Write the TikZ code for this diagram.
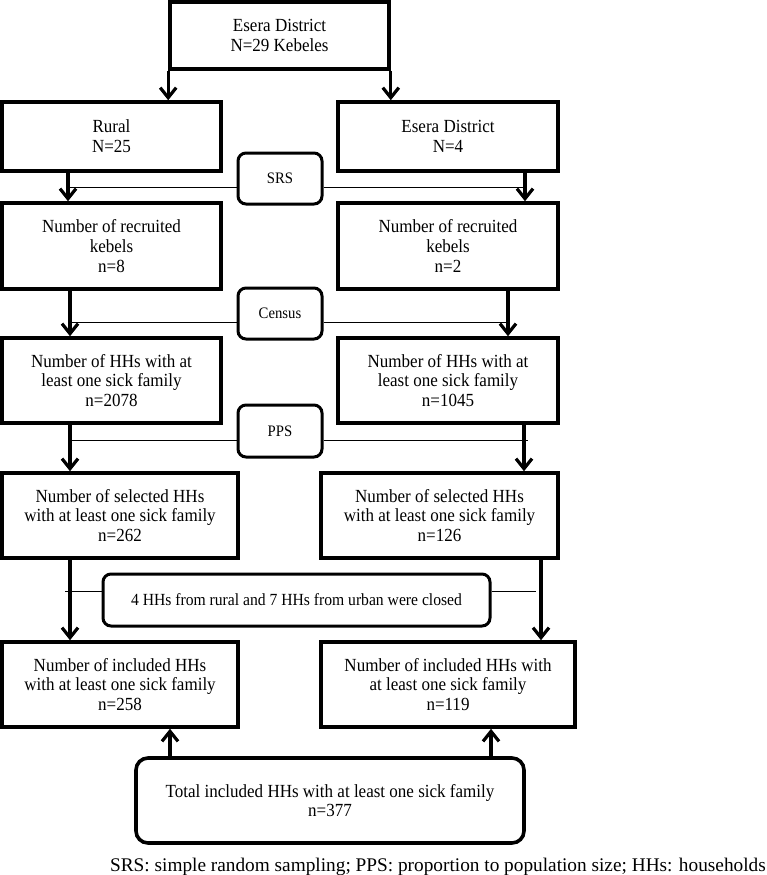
\documentclass[tikz,border=0pt]{standalone}
\usepackage{fontspec}
\setmainfont{Liberation Serif}
\newfontfamily\boxfont[FakeStretch=0.92]{Liberation Serif}
\usetikzlibrary{arrows.meta,calc}
\begin{document}
\begin{tikzpicture}[x=1pt,y=-1pt,
 mbox/.style={draw,line width=3.6pt,align=center,inner sep=0pt,font=\boxfont\fontsize{18.5}{19.8}\selectfont},
 rbox/.style={draw,line width=3pt,rounded corners=8pt,align=center,inner sep=0pt,font=\boxfont\fontsize{16}{18}\selectfont},
 arr/.style={line width=3.2pt,-{Straight Barb[length=10pt,width=16pt]}},
 thinline/.style={line width=1pt}]
\useasboundingbox (0,0) rectangle (766,875);
% main boxes
\node[mbox,minimum width=219,minimum height=67] (top) at (279.5,35.5) {Esera District\\N=29 Kebeles};
\node[mbox,minimum width=219,minimum height=69] (rural) at (111.5,136.5) {Rural\\N=25};
\node[mbox,minimum width=220,minimum height=69] (esera) at (448,136.5) {Esera District\\N=4};
\node[mbox,minimum width=219,minimum height=86] (rec1) at (111.5,246) {Number of recruited\\kebels\\n=8};
\node[mbox,minimum width=220,minimum height=86] (rec2) at (448,246) {Number of recruited\\kebels\\n=2};
\node[mbox,minimum width=219,minimum height=85] (hh1) at (111.5,380.5) {Number of HHs with at\\least one sick family\\n=2078};
\node[mbox,minimum width=220,minimum height=85] (hh2) at (448,380.5) {Number of HHs with at\\least one sick family\\n=1045};
\node[mbox,minimum width=236,minimum height=85] (sel1) at (120,515.5) {Number of selected HHs\\with at least one sick family\\n=262};
\node[mbox,minimum width=237,minimum height=85] (sel2) at (439.5,515.5) {Number of selected HHs\\with at least one sick family\\n=126};
\node[mbox,minimum width=236,minimum height=85] (inc1) at (120,684.5) {Number of included HHs\\with at least one sick family\\n=258};
\node[mbox,minimum width=254,minimum height=85] (inc2) at (448,684.5) {Number of included HHs with\\at least one sick family\\n=119};
% rounded boxes
\node[rbox,minimum width=84,minimum height=51] (srs) at (280,178.5) {SRS};
\node[rbox,minimum width=84,minimum height=51] (census) at (280,313.5) {Census};
\node[rbox,minimum width=84,minimum height=52] (pps) at (280,431) {PPS};
\node[rbox,font=\boxfont\fontsize{17}{19}\selectfont,minimum width=387,minimum height=52] (closed) at (296.5,600) {4 HHs from rural and 7 HHs from urban were closed};
\node[rbox,line width=3.6pt,rounded corners=12pt,font=\boxfont\fontsize{18.5}{19.8}\selectfont,minimum width=388,minimum height=85] (total) at (330,800.5) {Total included HHs with at least one sick family\\n=377};
% caption
\node[anchor=base east,inner sep=0pt,font=\fontsize{19.3}{22}\selectfont] (cap) at (766,871) {SRS: simple random sampling; PPS: proportion to population size; HHs: households};
% column coordinates
\coordinate (cS1) at (68,0);
\coordinate (cS2) at (525,0);
\coordinate (cC1) at (70,0);
\coordinate (cC2) at (508,0);
\coordinate (cP1) at (70,0);
\coordinate (cP2) at (524,0);
\coordinate (cP2e) at (528,0);
\coordinate (cX1) at (70,0);
\coordinate (cX2) at (541,0);
\coordinate (cX1e) at (65,0);
\coordinate (cX2e) at (536,0);
\coordinate (cU1) at (170,0);
\coordinate (cU2) at (491,0);
% arrows
\draw[arr] (top.south west) -- (top.south west |- rural.north);
\draw[arr] (top.south east) -- (top.south east |- esera.north);
\draw[arr] (rural.south -| cS1) -- (rec1.north -| cS1);
\draw[arr] (esera.south -| cS2) -- (rec2.north -| cS2);
\draw[thinline] ([yshift=-9pt]srs.west) -- ([yshift=-9pt]srs.west -| cS1);
\draw[thinline] ([yshift=-9pt]srs.east) -- ([yshift=-9pt]srs.east -| cS2);
\draw[arr] (rec1.south -| cC1) -- (hh1.north -| cC1);
\draw[arr] (rec2.south -| cC2) -- (hh2.north -| cC2);
\draw[thinline] ([yshift=-9pt]census.west) -- ([yshift=-9pt]census.west -| cC1);
\draw[thinline] ([yshift=-9pt]census.east) -- ([yshift=-9pt]census.east -| cC2);
\draw[arr] (hh1.south -| cP1) -- (sel1.north -| cP1);
\draw[arr] (hh2.south -| cP2) -- (sel2.north -| cP2);
\draw[thinline] ([yshift=-9pt]pps.west) -- ([yshift=-9pt]pps.west -| cP1);
\draw[thinline] ([yshift=-9pt]pps.east) -- ([yshift=-9pt]pps.east -| cP2e);
\draw[arr] (sel1.south -| cX1) -- (inc1.north -| cX1);
\draw[arr] (sel2.south -| cX2) -- (inc2.north -| cX2);
\draw[thinline] ([yshift=9pt]closed.west) -- ([yshift=9pt]closed.west -| cX1e);
\draw[thinline] ([yshift=9pt]closed.east) -- ([yshift=9pt]closed.east -| cX2e);
\draw[arr] (total.north -| cU1) -- (inc1.south -| cU1);
\draw[arr] (total.north -| cU2) -- (inc2.south -| cU2);
\end{tikzpicture}
\end{document}
